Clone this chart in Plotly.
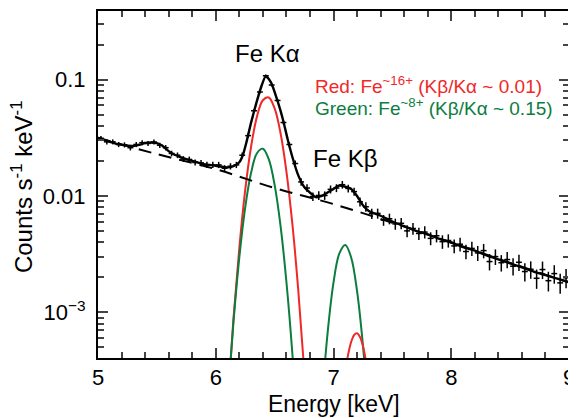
import plotly.graph_objects as go

# binned spectrum (bin centres, counts/s/keV, 1-sigma errors)
energy = [5.025, 5.075, 5.125, 5.175, 5.225, 5.275, 5.325, 5.375, 5.425, 5.475,
          5.525, 5.575, 5.625, 5.675, 5.725, 5.775, 5.825, 5.875, 5.925, 5.975,
          6.025, 6.075, 6.125, 6.175, 6.225, 6.275, 6.325, 6.375, 6.425, 6.475,
          6.525, 6.575, 6.625, 6.675, 6.725, 6.775, 6.825, 6.875, 6.925, 6.975,
          7.025, 7.075, 7.125, 7.175, 7.225, 7.275, 7.325, 7.375, 7.425, 7.475,
          7.525, 7.575, 7.625, 7.675, 7.725, 7.775, 7.825, 7.875, 7.925, 7.975,
          8.025, 8.075, 8.125, 8.175, 8.225, 8.275, 8.325, 8.375, 8.425, 8.475,
          8.525, 8.575, 8.625, 8.675, 8.725, 8.775, 8.825, 8.875, 8.925, 8.975]
counts = [0.0313, 0.0292, 0.0292, 0.0277, 0.0275, 0.0260, 0.0277, 0.0287, 0.0283, 0.0291,
          0.0273, 0.0260, 0.0232, 0.0224, 0.0208, 0.0206, 0.0194, 0.0192, 0.0185, 0.0185,
          0.0185, 0.0173, 0.0180, 0.0185, 0.0224, 0.0330, 0.0540, 0.0783, 0.108, 0.0899,
          0.0662, 0.0428, 0.0277, 0.0190, 0.0132, 0.0117, 0.00989, 0.0101, 0.0101, 0.0114,
          0.0117, 0.0125, 0.0116, 0.0109, 0.00891, 0.00807, 0.00705, 0.00708, 0.00620, 0.00637,
          0.00575, 0.00582, 0.00501, 0.00525, 0.00476, 0.00489, 0.00432, 0.00455, 0.00405, 0.00414,
          0.00372, 0.00385, 0.00333, 0.00354, 0.00324, 0.00339, 0.00273, 0.00301, 0.00267, 0.00284,
          0.00249, 0.00269, 0.00224, 0.00234, 0.00196, 0.00233, 0.00187, 0.00215, 0.00179, 0.00198]
count_err = [0.00150, 0.00145, 0.00145, 0.00140, 0.00140, 0.00138, 0.00140, 0.00142, 0.00142, 0.00144,
             0.00140, 0.00136, 0.00128, 0.00126, 0.00120, 0.00120, 0.00117, 0.00116, 0.00114, 0.00114,
             0.00114, 0.00110, 0.00112, 0.00114, 0.00126, 0.00152, 0.00195, 0.00235, 0.00275, 0.00252,
             0.00216, 0.00173, 0.00140, 0.00115, 0.00097, 0.00091, 0.00084, 0.00085, 0.00085, 0.00090,
             0.00091, 0.00094, 0.00091, 0.00087, 0.00079, 0.00076, 0.00070, 0.00070, 0.00066, 0.00067,
             0.00063, 0.00064, 0.00059, 0.00061, 0.00058, 0.00059, 0.00055, 0.00056, 0.00054, 0.00054,
             0.00051, 0.00052, 0.00048, 0.00050, 0.00048, 0.00048, 0.00044, 0.00046, 0.00043, 0.00045,
             0.00042, 0.00043, 0.00040, 0.00040, 0.00037, 0.00040, 0.00036, 0.00039, 0.00035, 0.00037]
bin_half = 0.025

# total model
model_e = [5.00, 5.10, 5.20, 5.30, 5.35, 5.40, 5.45, 5.50, 5.55, 5.60, 5.65, 5.70, 5.80, 5.90,
           6.00, 6.10, 6.15, 6.20, 6.23, 6.26, 6.30, 6.345, 6.39, 6.425, 6.47, 6.53, 6.57, 6.61,
           6.655, 6.70, 6.75, 6.80, 6.85, 6.90, 6.95, 7.00, 7.05, 7.10, 7.15, 7.20, 7.25, 7.30,
           7.40, 7.50, 7.60, 7.70, 7.80, 7.90, 8.00, 8.10, 8.20, 8.30, 8.40, 8.50, 8.60, 8.70,
           8.80, 8.90, 9.00]
model = [0.0316, 0.0292, 0.0275, 0.0269, 0.0275, 0.0285, 0.0288, 0.0285, 0.0269, 0.0243, 0.0226, 0.0216,
         0.0200, 0.0188, 0.0182, 0.0176, 0.0180, 0.0195, 0.0224, 0.0288, 0.0427, 0.0631, 0.0891, 0.1072,
         0.0944, 0.0631, 0.0457, 0.0309, 0.0209, 0.0151, 0.0120, 0.0107, 0.00977, 0.0100, 0.0107, 0.0115,
         0.0123, 0.0120, 0.0115, 0.0100, 0.00832, 0.00741, 0.00676, 0.00603, 0.00550, 0.00501, 0.00468,
         0.00427, 0.00398, 0.00363, 0.00339, 0.00309, 0.00285, 0.00263, 0.00243, 0.00224, 0.00209,
         0.00195, 0.00182]

# continuum
cont_e = [5.0, 5.5, 6.0, 6.5, 7.0, 7.5, 8.0, 8.5, 9.0]
cont = [0.0316, 0.0229, 0.0170, 0.0117, 0.00851, 0.00589, 0.00398, 0.00266, 0.00180]

# line components
red_ka_e = [6.05, 6.10, 6.15, 6.20, 6.25, 6.30, 6.35, 6.40, 6.45, 6.50, 6.55, 6.60, 6.65, 6.70, 6.75, 6.80]
red_ka = [2.3e-5, 1.6e-4, 8.7e-4, 0.00355, 0.0112, 0.0265, 0.0481, 0.0665, 0.0703, 0.0566,
          0.0348, 0.0163, 0.00583, 0.00158, 3.3e-4, 5.2e-5]
green_ka_e = [6.05, 6.10, 6.15, 6.20, 6.25, 6.30, 6.35, 6.40, 6.45, 6.50, 6.55, 6.60, 6.65, 6.70]
green_ka = [2.5e-5, 1.66e-4, 8.1e-4, 0.00295, 0.00794, 0.0158, 0.0233, 0.0255, 0.0207, 0.01245,
            0.00555, 0.00183, 4.5e-4, 8.1e-5]
green_kb_e = [6.85, 6.90, 6.95, 7.00, 7.05, 7.10, 7.15, 7.20, 7.25, 7.30, 7.35]
green_kb = [2.6e-5, 1.62e-4, 6.65e-4, 0.0018, 0.00321, 0.00379, 0.00296, 0.00152, 5.2e-4, 1.17e-4, 1.7e-5]
red_kb_e = [7.05, 7.10, 7.125, 7.15, 7.175, 7.20, 7.225, 7.25, 7.275, 7.30, 7.35]
red_kb = [1.1e-4, 3.1e-4, 4.37e-4, 5.56e-4, 6.38e-4, 6.59e-4, 6.12e-4, 5.13e-4, 3.83e-4, 2.57e-4, 8.5e-5]

RED = "#f02828"
GREEN = "#0b7d3e"
FONT = "Liberation Sans, Arial, sans-serif"

fig = go.Figure()

for xs, ys, c in [(red_ka_e, red_ka, RED), (green_ka_e, green_ka, GREEN),
                  (green_kb_e, green_kb, GREEN), (red_kb_e, red_kb, RED)]:
    fig.add_trace(go.Scatter(x=xs, y=ys, mode="lines",
                             line=dict(color=c, width=2, shape="spline")))

fig.add_trace(go.Scatter(x=cont_e, y=cont, mode="lines",
                         line=dict(color="black", width=2, dash="13px,8px", shape="spline")))

fig.add_trace(go.Scatter(x=energy, y=counts, mode="markers",
                         marker=dict(size=2, color="black"),
                         error_y=dict(type="data", array=count_err, color="black", thickness=1.5, width=0),
                         error_x=dict(type="constant", value=bin_half, color="black", thickness=1.5, width=0)))

fig.add_trace(go.Scatter(x=model_e, y=model, mode="lines",
                         line=dict(color="black", width=2.4, shape="spline", smoothing=0.6)))

minor_y = [m * 10 ** p for p in (-4, -3, -2, -1) for m in range(2, 10)]

# page body has an 8px margin, so the figure is 8px smaller each way
fig.update_layout(
    width=568, height=410,
    margin=dict(l=90, r=6, t=1, b=60),
    plot_bgcolor="white", paper_bgcolor="white",
    showlegend=False,
    font=dict(family=FONT, color="black", size=20),
    xaxis=dict(range=[5, 9], tickvals=[5, 6, 7, 8, 9], ticks="inside", ticklen=10, tickwidth=1.5,
               showline=True, linewidth=2, linecolor="black", mirror="allticks", showgrid=False,
               zeroline=False, ticklabelstandoff=-1, ticklabeloverflow="allow", tickfont=dict(size=22),
               minor=dict(dtick=0.2, ticks="inside", ticklen=6, tickwidth=1.5, showgrid=False)),
    yaxis=dict(type="log", range=[-3.393, -0.41], tickvals=[0.001, 0.01, 0.1],
               ticktext=["10<sup>−3</sup>", "0.01", "0.1"],
               ticks="inside", ticklen=10, tickwidth=1.5,
               showline=True, linewidth=2, linecolor="black", mirror="allticks", showgrid=False,
               zeroline=False, ticklabelstandoff=6, tickfont=dict(size=22),
               minor=dict(tickvals=minor_y, ticks="inside", ticklen=6, tickwidth=1.5, showgrid=False)),
)

# axis titles
fig.add_annotation(x=0.502, y=-0.132, xref="paper", yref="paper", xanchor="center", yanchor="middle",
                   text="Energy [keV]", showarrow=False, font=dict(size=23))
fig.add_annotation(x=-0.161, y=0.493, xref="paper", yref="paper", xanchor="center", yanchor="middle",
                   text="Counts s<sup>-1</sup> keV<sup>-1</sup>", textangle=-90, showarrow=False,
                   font=dict(size=24))

# line labels
fig.add_annotation(x=0.286, y=0.877, xref="paper", yref="paper", xanchor="left", yanchor="middle",
                   text="Fe Kα", showarrow=False, font=dict(size=24))
fig.add_annotation(x=0.453, y=0.576, xref="paper", yref="paper", xanchor="left", yanchor="middle",
                   text="Fe Kβ", showarrow=False, font=dict(size=24))
fig.add_annotation(x=0.4555, y=0.788, xref="paper", yref="paper", xanchor="left", yanchor="middle",
                   text="Red: Fe<sup>~16+</sup> (Kβ/Kα ~ 0.01)", showarrow=False,
                   font=dict(size=19, color=RED))
fig.add_annotation(x=0.4555, y=0.722, xref="paper", yref="paper", xanchor="left", yanchor="middle",
                   text="Green: Fe<sup>~8+</sup> (Kβ/Kα ~ 0.15)", showarrow=False,
                   font=dict(size=19, color=GREEN))

fig.write_html("out.html")
